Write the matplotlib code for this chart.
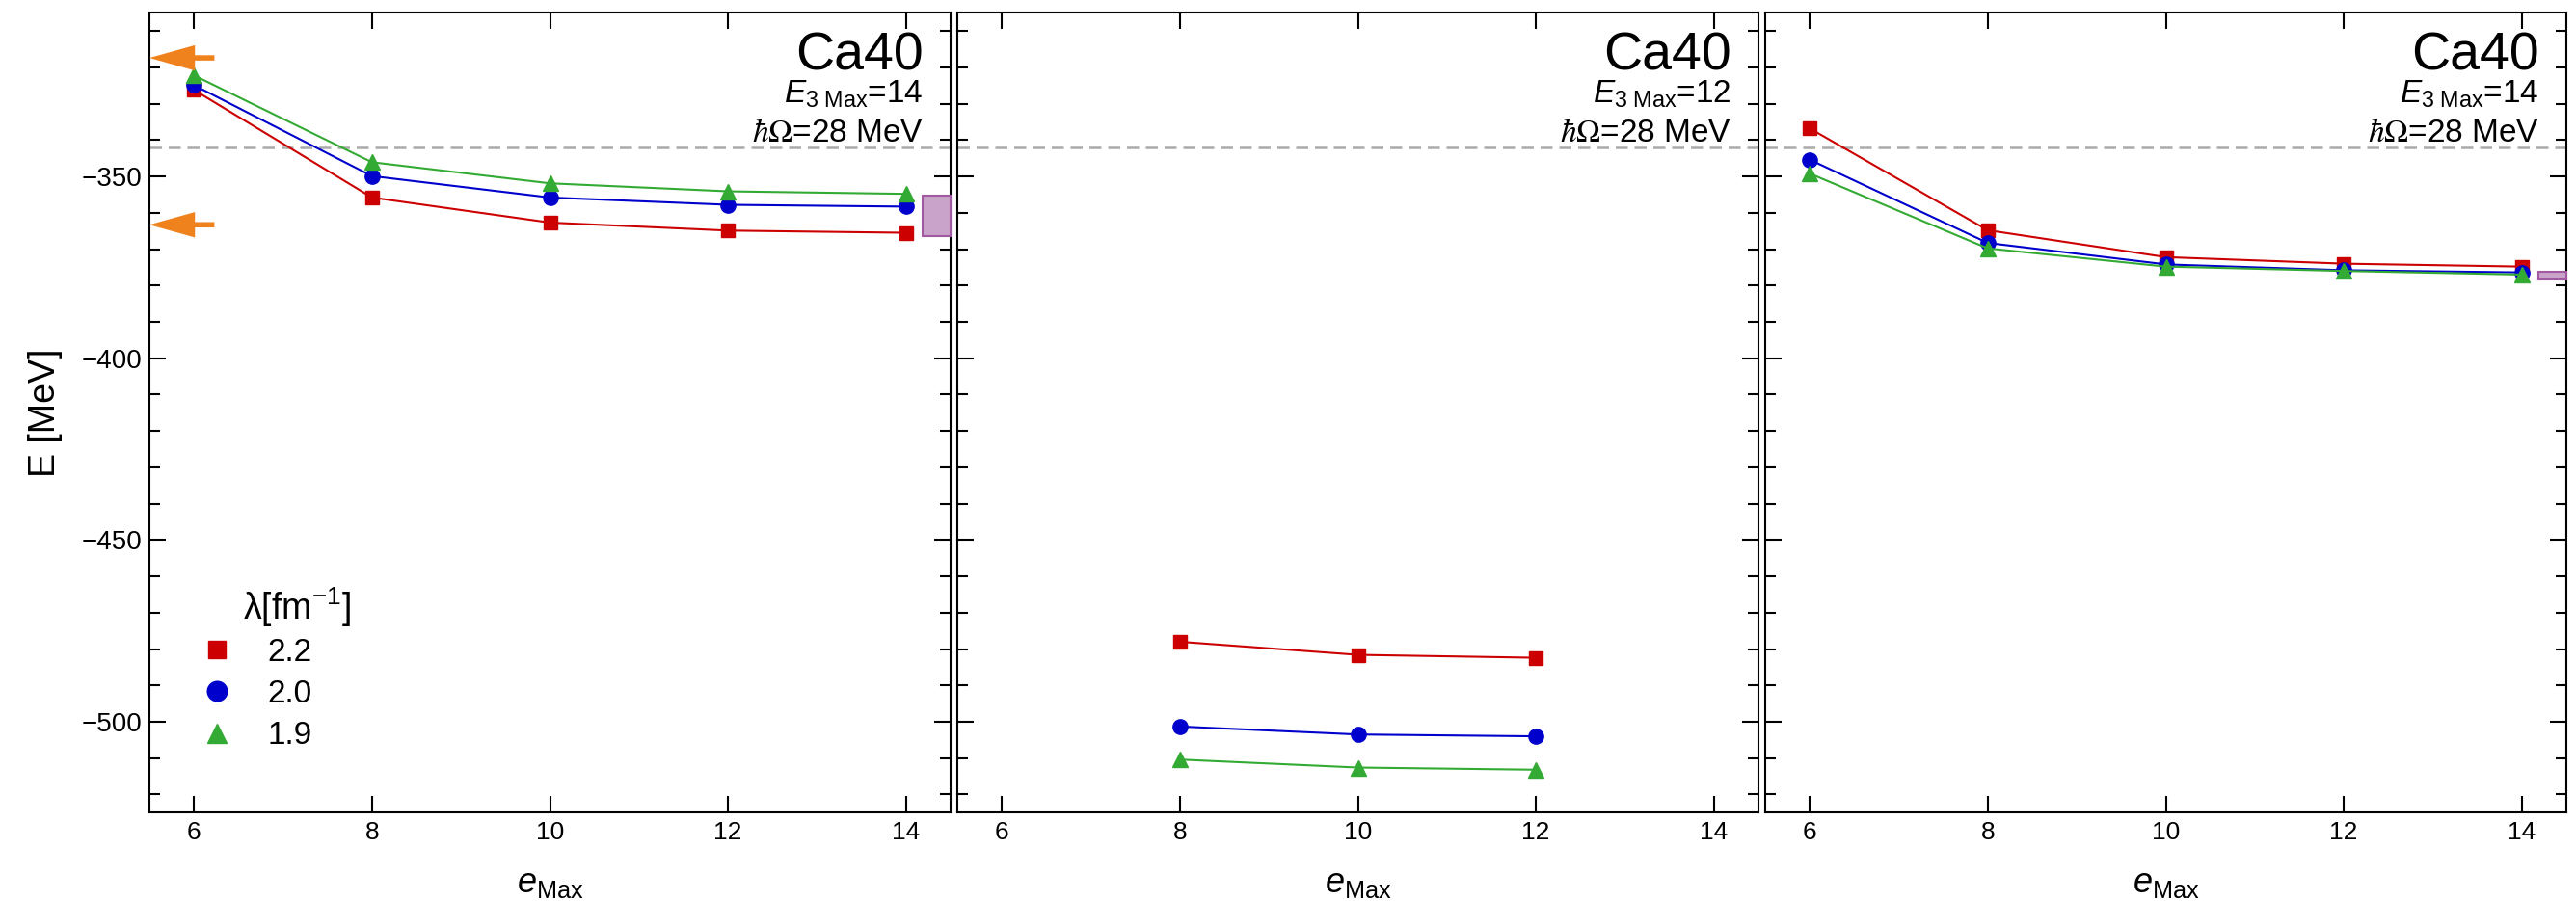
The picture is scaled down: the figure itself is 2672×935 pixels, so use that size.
import numpy as np
import matplotlib.pyplot as plt
from matplotlib.lines import Line2D
from matplotlib.patches import Rectangle
from matplotlib.ticker import MultipleLocator

plt.rcParams['font.family'] = ['Liberation Sans', 'DejaVu Sans']
plt.rcParams['mathtext.fontset'] = 'custom'
plt.rcParams['mathtext.rm'] = 'Liberation Sans'
plt.rcParams['mathtext.it'] = 'Liberation Sans:italic'
plt.rcParams['mathtext.bf'] = 'Liberation Sans:bold'

# data
emax_all = [6, 8, 10, 12, 14]
emax_mid = [8, 10, 12]
lambda_labels = ['2.2', '2.0', '1.9']
e3max_vals = [14, 12, 14]

p1_l22 = [-326.2, -355.8, -362.7, -364.9, -365.5]
p1_l20 = [-324.9, -349.9, -355.8, -357.8, -358.3]
p1_l19 = [-322.2, -346.1, -351.9, -354.1, -354.8]

p2_l22 = [-478.0, -481.6, -482.4]
p2_l20 = [-501.3, -503.5, -504.0]
p2_l19 = [-510.4, -512.6, -513.2]

p3_l22 = [-336.8, -364.8, -372.2, -374.0, -374.8]
p3_l20 = [-345.4, -368.3, -374.2, -375.8, -376.4]
p3_l19 = [-349.2, -369.8, -374.8, -376.0, -377.0]

ref_energy = -342.0
arrow_energies = [-317.4, -363.3]
band_p1 = [-366.5, -355.2]
band_p3 = [-378.4, -376.2]

colors = ['#CC0000', '#0000CC', '#33AA33']
markers = ['s', 'o', '^']
msizes = [10, 11, 11]

panels = [
    (emax_all, [p1_l22, p1_l20, p1_l19]),
    (emax_mid, [p2_l22, p2_l20, p2_l19]),
    (emax_all, [p3_l22, p3_l20, p3_l19]),
]

W, H = 2672, 935
fig = plt.figure(figsize=(W / 100, H / 100), dpi=100)
lefts = [155, 993, 1831]
axw = 831
bot = (H - 843.3) / H
hgt = (843.3 - 13.3) / H

axes = []
for i, (xs, series) in enumerate(panels):
    ax = fig.add_axes([lefts[i] / W, bot, axw / W, hgt])
    axes.append(ax)
    for ys, c, m, ms in zip(series, colors, markers, msizes):
        ax.plot(xs, ys, color=c, lw=1.5, marker=m, ms=ms, mec=c, mfc=c, zorder=3)
    ax.axhline(ref_energy, color='#AAAAAA', lw=1.8, ls=(0, (5, 2.8)), zorder=1)
    ax.set_xlim(5.5, 14.5)
    ax.set_ylim(-525, -305)
    ax.xaxis.set_major_locator(MultipleLocator(2))
    ax.yaxis.set_major_locator(MultipleLocator(50))
    ax.yaxis.set_minor_locator(MultipleLocator(10))
    ax.tick_params(which='both', direction='in', top=True, right=True, width=1.5)
    ax.tick_params(which='major', length=12)
    ax.tick_params(which='minor', length=8)
    ax.tick_params(axis='x', labelsize=19, pad=6)
    ax.tick_params(axis='y', labelsize=20, pad=5.5)
    for s in ax.spines.values():
        s.set_linewidth(1.5)
    if i > 0:
        ax.tick_params(axis='y', labelleft=False)
    ax.set_xlabel(r'$e_{\mathrm{Max}}$', fontsize=26, labelpad=17)

    ax.text(0.966, 0.929, 'Ca40', transform=ax.transAxes, ha='right', va='baseline', fontsize=40)
    ax.text(0.966, 0.888, r'$E_{\mathrm{3\ Max}}$=%d' % e3max_vals[i], transform=ax.transAxes,
            ha='right', va='baseline', fontsize=24)
    ax.text(0.966, 0.839, r'$\hbar\Omega$=28 MeV', transform=ax.transAxes,
            ha='right', va='baseline', fontsize=24, math_fontfamily='stix')

axes[0].set_ylabel('E [MeV]', fontsize=27, labelpad=14)

# arrows on the left axis
for y in arrow_energies:
    axes[0].annotate('', xy=(5.5, y), xytext=(6.23, y),
                     arrowprops=dict(arrowstyle='simple,head_length=34,head_width=19,tail_width=4',
                                     mutation_scale=1, color='#F0821E', lw=0,
                                     shrinkA=0, shrinkB=0),
                     annotation_clip=False, zorder=5)

# bands at the right edge
for ax, band in [(axes[0], band_p1), (axes[2], band_p3)]:
    ax.add_patch(Rectangle((14.19, band[0]), 0.31, band[1] - band[0],
                           facecolor='#C9A3C9', edgecolor='#A15AA1', lw=1.5,
                           clip_on=False, zorder=4))

handles = [Line2D([], [], ls='none', marker=m, color=c, ms=ms)
           for c, m, ms in zip(colors, markers, msizes)]
axes[0].legend(handles, lambda_labels, loc='upper left', bbox_to_anchor=(0.064, 0.219),
               frameon=False, fontsize=24, markerscale=1.35, handlelength=1.0,
               handletextpad=1.08, labelspacing=0.37, borderpad=0, borderaxespad=0)
axes[0].text(0.117, 0.257, 'λ[fm$^{-1}$]', transform=axes[0].transAxes,
             ha='left', va='center', fontsize=27)

fig.savefig('out.png', dpi=100)
